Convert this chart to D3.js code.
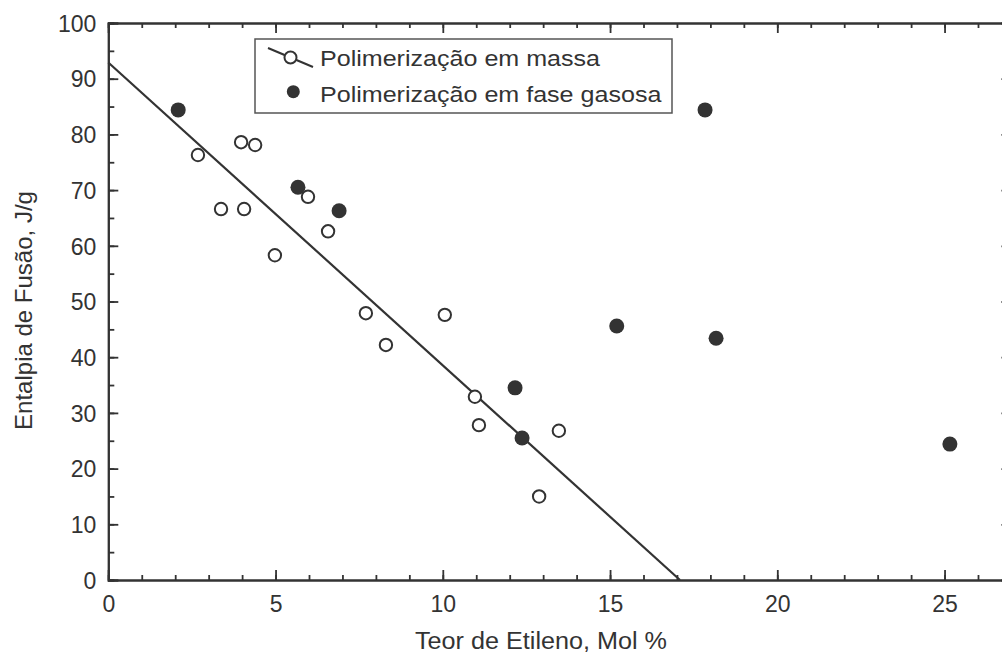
<!DOCTYPE html>
<html>
<head>
<meta charset="utf-8">
<script src="https://cdn.jsdelivr.net/npm/d3@7"></script>
<style>
  html, body { margin: 0; padding: 0; background: #fff; }
  svg { display: block; }
  text { font-family: "Liberation Sans", Arial, Helvetica, sans-serif; fill: #333; }
</style>
</head>
<body>
<svg id="chart" width="1002" height="656"></svg>
<script>
// ---- Data ----
const massaX = [2.68, 3.37, 3.97, 4.06, 4.39, 4.98, 5.97, 6.57, 7.70, 8.30, 10.06, 10.96, 11.08, 12.88, 13.47];
const massaY = [76.3, 66.6, 78.6, 66.6, 78.1, 58.3, 68.8, 62.6, 47.9, 42.2, 47.6, 32.9, 27.8, 15.0, 26.8];
const gasX = [2.09, 5.67, 6.90, 12.16, 12.37, 15.20, 17.84, 18.17, 25.16];
const gasY = [84.4, 70.5, 66.3, 34.5, 25.5, 45.6, 84.4, 43.4, 24.4];
const fitX = [0, 17.09];
const fitY = [92.9, 0];
const xTicks = [0, 5, 10, 15, 20, 25];
const yTicks = [0, 10, 20, 30, 40, 50, 60, 70, 80, 90, 100];
const legendLabels = ["Polimerização em massa", "Polimerização em fase gasosa"];
const xTitle = "Teor de Etileno, Mol %";
const yTitle = "Entalpia de Fusão, J/g";

// ---- Layout ----
const svg = d3.select("#chart");
const L = 108.3, T = 23, B = 580;
const x = d3.scaleLinear().domain([0, 27]).range([L, L + 27 * 33.45]);
const y = d3.scaleLinear().domain([0, 100]).range([B, T]);
const ink = "#333";

const xMinor = d3.range(0, 28, 1);
const yMinor = d3.range(0, 101, 5);

function styleAxis(g) {
  g.select(".domain").attr("stroke", ink).attr("stroke-width", 2);
  g.selectAll(".tick line").attr("stroke", ink).attr("stroke-width", 1.8);
}

// bottom minor + major
svg.append("g").attr("transform", `translate(0,${B})`)
  .call(d3.axisBottom(x).tickValues(xMinor).tickSize(-5).tickFormat(""))
  .call(styleAxis);
const gxb = svg.append("g").attr("transform", `translate(0,${B})`)
  .call(d3.axisBottom(x).tickValues(xTicks).tickSize(-10).tickPadding(0).tickFormat(d3.format("d")))
  .call(styleAxis);
gxb.selectAll(".tick text").attr("y", 32).attr("dy", 0)
  .style("font-size", "23px").attr("fill", ink);

// top
svg.append("g").attr("transform", `translate(0,${T})`)
  .call(d3.axisTop(x).tickValues(xMinor).tickSize(-5).tickFormat(""))
  .call(styleAxis);
svg.append("g").attr("transform", `translate(0,${T})`)
  .call(d3.axisTop(x).tickValues(xTicks).tickSize(-10).tickFormat(""))
  .call(styleAxis);

// left
svg.append("g").attr("transform", `translate(${L},0)`)
  .call(d3.axisLeft(y).tickValues(yMinor).tickSize(-6).tickFormat(""))
  .call(styleAxis);
const gyl = svg.append("g").attr("transform", `translate(${L},0)`)
  .call(d3.axisLeft(y).tickValues(yTicks).tickSize(-10).tickFormat(d3.format("d")))
  .call(styleAxis);
gyl.selectAll(".tick text").attr("x", -12).attr("dy", "0.36em")
  .style("font-size", "23px").attr("fill", ink);

// right (mostly off-canvas)
const R = x(27);
svg.append("g").attr("transform", `translate(${R},0)`)
  .call(d3.axisRight(y).tickValues(yMinor).tickSize(-6).tickFormat(""))
  .call(styleAxis);
svg.append("g").attr("transform", `translate(${R},0)`)
  .call(d3.axisRight(y).tickValues(yTicks).tickSize(-10).tickFormat(""))
  .call(styleAxis);

// axis titles
svg.append("text").attr("transform", "translate(541,649) scale(1.05,1)").attr("text-anchor", "middle")
  .style("font-size", "24px").text(xTitle);
svg.append("text").attr("transform", `translate(31.5,${310.5}) rotate(-90)`)
  .attr("text-anchor", "middle").style("font-size", "24px").text(yTitle);

// fit line
const line = d3.line().x(d => x(d[0])).y(d => y(d[1]));
svg.append("path").datum(d3.zip(fitX, fitY)).attr("d", line)
  .attr("fill", "none").attr("stroke", ink).attr("stroke-width", 2.2);

// open circles
svg.append("g").selectAll("circle").data(d3.zip(massaX, massaY)).join("circle")
  .attr("cx", d => x(d[0])).attr("cy", d => y(d[1])).attr("r", 6.2)
  .attr("fill", "#fff").attr("stroke", ink).attr("stroke-width", 2);

// filled circles
svg.append("g").selectAll("circle").data(d3.zip(gasX, gasY)).join("circle")
  .attr("cx", d => x(d[0])).attr("cy", d => y(d[1])).attr("r", 7.5)
  .attr("fill", ink);

// legend
const lg = svg.append("g");
lg.append("rect").attr("x", 255).attr("y", 39).attr("width", 417).attr("height", 74)
  .attr("fill", "#fff").attr("stroke", "#555").attr("stroke-width", 1.5);
lg.append("line").attr("x1", 268).attr("y1", 48).attr("x2", 313).attr("y2", 67)
  .attr("stroke", ink).attr("stroke-width", 2);
lg.append("circle").attr("cx", 290.5).attr("cy", 57.5).attr("r", 6)
  .attr("fill", "#fff").attr("stroke", ink).attr("stroke-width", 2);
lg.append("circle").attr("cx", 293.3).attr("cy", 91.7).attr("r", 6.5).attr("fill", ink);
lg.selectAll("text.lbl").data(legendLabels).join("text").attr("class", "lbl")
  .attr("transform", (d, i) => `translate(320,${i === 0 ? 66 : 101.5}) scale(1.14,1)`)
  .style("font-size", "22px").text(d => d);
</script>
</body>
</html>
